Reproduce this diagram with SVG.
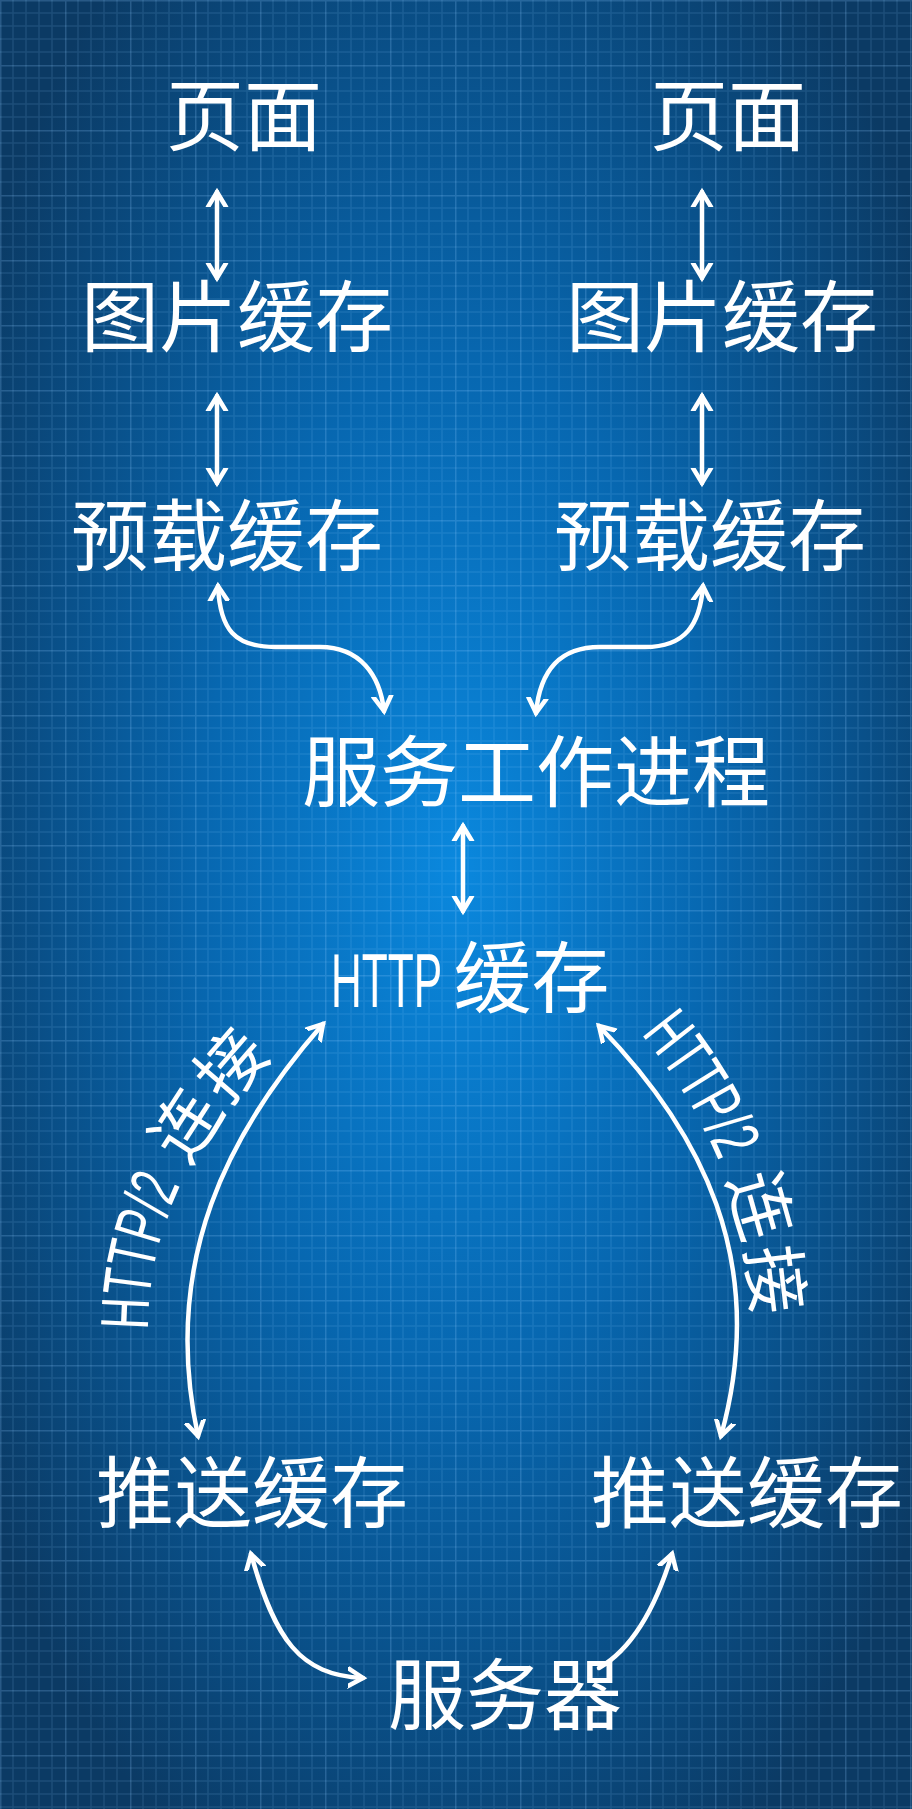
<svg xmlns="http://www.w3.org/2000/svg" width="912" height="1809" viewBox="0 0 912 1809">
<style>
.t{fill:#ffffff;font-family:"Noto Sans CJK SC","Noto Sans",sans-serif;font-size:78px;text-anchor:middle}
.c{fill:none;stroke:#ffffff;stroke-width:4.5;stroke-linecap:round}
.lab{fill:#ffffff;font-family:"Noto Sans CJK SC",sans-serif;font-size:68px}
.lat{font-family:"Liberation Sans","DejaVu Sans",sans-serif}
</style>
<defs>
<radialGradient id="bg" cx="0.5" cy="0.48" r="0.62">
<stop offset="0" stop-color="#0a88de"/>
<stop offset="0.45" stop-color="#0767b0"/>
<stop offset="1" stop-color="#0b3a64"/>
</radialGradient>
<pattern id="grid" width="65" height="65" patternUnits="userSpaceOnUse">
<path d="M13,0V65M26,0V65M39,0V65M52,0V65M0,13H65M0,26H65M0,39H65M0,52H65" stroke="#8cc8ff" stroke-opacity="0.13" stroke-width="1.5" fill="none"/>
<path d="M0.5,0V65M0,0.5H65" stroke="#8cc8ff" stroke-opacity="0.22" stroke-width="2" fill="none"/>
</pattern>
<marker id="ah" markerUnits="userSpaceOnUse" markerWidth="30" markerHeight="30" viewBox="-15 -15 30 30" refX="0" refY="0" orient="auto-start-reverse">
<path d="M-15,-9 L0,0 L-15,9" fill="none" stroke="#ffffff" stroke-width="4.5" stroke-linecap="round" stroke-linejoin="miter"/>
</marker>
<path id="lp" d="M148,1330 C148,1230 190,1140 278,1050"/>
<path id="rp" d="M641,1034 C700,1105 750,1200 754,1325"/>
</defs>
<rect width="912" height="1809" fill="url(#bg)"/>
<rect width="912" height="1809" fill="url(#grid)"/>

<g id="connectors">
<path class="c" d="M217,192 L217,278" marker-start="url(#ah)" marker-end="url(#ah)"/>
<path class="c" d="M702,192 L702,278" marker-start="url(#ah)" marker-end="url(#ah)"/>
<path class="c" d="M217,396 L217,483" marker-start="url(#ah)" marker-end="url(#ah)"/>
<path class="c" d="M702,396 L702,483" marker-start="url(#ah)" marker-end="url(#ah)"/>
<path class="c" d="M218,586 C220,630 235,647 275,647 L320,647 C360,647 380,675 384,711" marker-start="url(#ah)" marker-end="url(#ah)"/>
<path class="c" d="M703,586 C700,625 685,647 645,647 L600,647 C560,647 540,670 536,713" marker-start="url(#ah)" marker-end="url(#ah)"/>
<path class="c" d="M463,826 L463,911" marker-start="url(#ah)" marker-end="url(#ah)"/>
<path class="c" d="M323,1024 C230,1130 160,1260 198,1436" marker-start="url(#ah)" marker-end="url(#ah)"/>
<path class="c" d="M599,1026 C700,1130 770,1260 721,1436" marker-start="url(#ah)" marker-end="url(#ah)"/>
<path class="c" d="M251,1554 C275,1640 300,1675 363,1678" marker-start="url(#ah)" marker-end="url(#ah)"/>
<path class="c" d="M672,1554 C655,1610 630,1650 599,1668" marker-start="url(#ah)"/>
<text class="lab"><textPath href="#lp"><tspan class="lat" font-size="68" textLength="150" lengthAdjust="spacingAndGlyphs">HTTP/2</tspan><tspan letter-spacing="4"> 连接</tspan></textPath></text>
<text class="lab"><textPath href="#rp"><tspan class="lat" font-size="68" textLength="150" lengthAdjust="spacingAndGlyphs">HTTP/2</tspan><tspan letter-spacing="4"> 连接</tspan></textPath></text>
</g>

<g id="page-left"><text class="t" x="244" y="145">页面</text></g>
<g id="page-right"><text class="t" x="728" y="145">页面</text></g>
<g id="image-cache-left"><text class="t" x="237" y="346">图片缓存</text></g>
<g id="image-cache-right"><text class="t" x="722" y="346">图片缓存</text></g>
<g id="preload-cache-left"><text class="t" x="227" y="565">预载缓存</text></g>
<g id="preload-cache-right"><text class="t" x="710" y="565">预载缓存</text></g>
<g id="service-worker"><text class="t" x="536" y="801">服务工作进程</text></g>
<g id="http-cache"><text class="t" x="331" y="1007" style="text-anchor:start"><tspan class="lat" font-size="76" textLength="111" lengthAdjust="spacingAndGlyphs">HTTP</tspan><tspan x="436"> 缓存</tspan></text></g>
<g id="push-cache-left"><text class="t" x="252" y="1522">推送缓存</text></g>
<g id="push-cache-right"><text class="t" x="747" y="1522">推送缓存</text></g>
<g id="server"><text class="t" x="505" y="1724">服务器</text></g>
</svg>
